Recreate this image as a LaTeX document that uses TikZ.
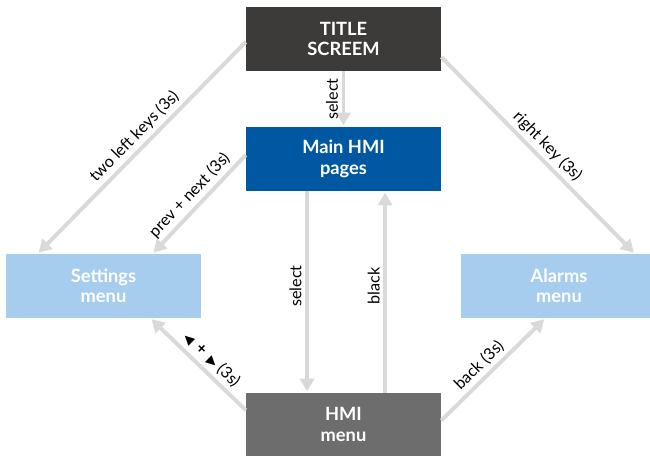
\documentclass[tikz,border=0pt]{standalone}
\usepackage{fontspec}
\setmainfont{Lato}
\newfontfamily\symfont{DejaVu Sans}
\usepackage{tikz}
\usetikzlibrary{arrows.meta}
\definecolor{titlegray}{HTML}{3C3B3A}
\definecolor{mainblue}{HTML}{0058A3}
\definecolor{menublue}{HTML}{A6CDEE}
\definecolor{hmigray}{HTML}{6D6D6D}
\definecolor{arrgray}{HTML}{D9D9D9}

\begin{document}
\begin{tikzpicture}[x=0.025cm,y=-0.025cm]
\tikzstyle{box}=[rectangle, minimum width=4.875cm, minimum height=1.6cm, inner sep=0pt, text=white, align=center, font=\bfseries\fontsize{13}{14.5}\selectfont]
\tikzstyle{arr}=[draw=arrgray, line width=2.8pt, -{Triangle[length=9pt,width=10pt]}, shorten >=1pt]
\tikzstyle{lab}=[text=black, sloped, above, inner sep=2.5pt, font=\fontsize{11.5}{13}\selectfont]
\useasboundingbox (0,0) rectangle (650,456);
%boxes
\node[box, fill=titlegray] (title) at (343.5,39) {TITLE\\SCREEM};
\node[box, fill=mainblue] (main) at (343.5,159) {Main HMI\\pages};
\node[box, fill=menublue] (settings) at (103.5,286) {Settings\\menu};
\node[box, fill=menublue] (alarms) at (559,286) {Alarms\\menu};
\node[box, fill=hmigray, minimum height=1.575cm] (hmi) at (343.5,424.5) {HMI\\menu};
%vertical
\draw[arr] (title) -- node[lab, rotate=180, midway] {select} (main);
\draw[arr] ([xshift=-0.91cm]main.south) -- node[lab, rotate=180, pos=0.47] {select} ([xshift=-0.91cm]hmi.north);
\draw[arr] ([xshift=1.04cm]hmi.north) -- node[lab, pos=0.53] {black} ([xshift=1.04cm]main.south);
%left
\draw[arr] ([yshift=-0.075cm]title.west) -- node[lab, pos=0.49] {two left keys (3s)} ([xshift=0.8cm]settings.north west);
\draw[arr] ([yshift=0.1cm]main.west) -- node[lab, pos=0.5] {prev + next (3s)} ([xshift=-1.22cm]settings.north east);
\draw[arr] ([yshift=0.36cm]hmi.west) -- node[lab, pos=0.45] {{\symfont\fontsize{9}{10}\selectfont◀}\, \textbf{+}\, {\symfont\fontsize{9}{10}\selectfont▶} (3s)} ([xshift=-1.27cm]settings.south east);
%right
\draw[arr] ([yshift=-0.45cm]title.east) -- node[lab, pos=0.5] {right key (3s)} ([xshift=-0.55cm]alarms.north east);
\draw[arr] ([yshift=0.1cm]hmi.east) -- node[lab, pos=0.45] {back (3s)} ([xshift=2.1cm]alarms.south west);
\end{tikzpicture}
\end{document}
